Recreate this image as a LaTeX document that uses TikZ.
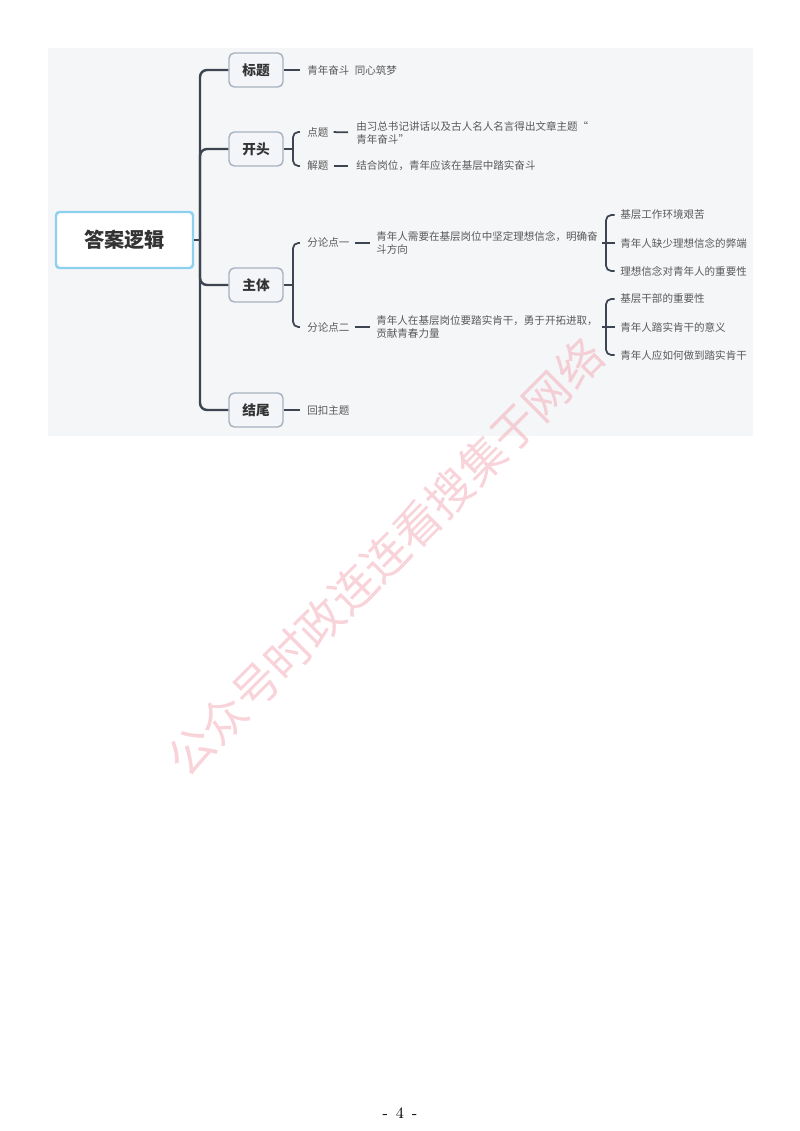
\documentclass[tikz,border=0pt]{standalone}
\usepackage{fontspec}
\newfontfamily\cjk{Noto Sans CJK SC}
\usetikzlibrary{positioning}
\definecolor{panel}{HTML}{F5F6F8}
\definecolor{branch}{HTML}{3E4552}
\definecolor{boxline}{HTML}{A7B2C0}
\definecolor{boxfill}{HTML}{F3F5F8}
\definecolor{rootline}{HTML}{8CD2F0}
\definecolor{leafgray}{HTML}{595959}
\definecolor{mark}{HTML}{F2A7B3}
\tikzset{
  rootbox/.style={draw=rootline, line width=1.4pt, fill=white, rounded corners=2pt,
    minimum width=2.74cm, minimum height=1.12cm,
    font=\cjk\bfseries\fontsize{11.5}{12}\selectfont, text=black!80},
  topicbox/.style={draw=boxline, line width=0.8pt, fill=boxfill, rounded corners=3pt,
    minimum width=1.08cm, minimum height=0.68cm,
    font=\cjk\bfseries\fontsize{7.8}{9}\selectfont, text=black!80},
  leaf/.style={anchor=west, inner sep=0pt, align=left,
    font=\cjk\fontsize{6}{7.4}\selectfont, text=leafgray},
  branchline/.style={draw=branch, line width=1.4pt, rounded corners=4pt},
  twigline/.style={draw=branch, line width=1pt, rounded corners=3pt},
}
\begin{document}
\begin{tikzpicture}[x=0.02cm, y=-0.02cm]
        \useasboundingbox (0,0) rectangle (800,1131);
        % the grey panel
        \fill[panel] (48,48) rectangle (753,436);

        % root and the four parts
        \node[rootbox] (daan) at (124.5,240) {答案逻辑};
        \node[topicbox] (biaoti) at (256,70) {标题};
        \node[topicbox] (kaitou) at (256,149) {开头};
        \node[topicbox] (zhuti) at (256,285) {主体};
        \node[topicbox] (jiewei) at (256,410) {结尾};

        % the trunk
        \coordinate (j0) at (200,240);
        \draw[branchline] (daan.east) -- (j0);
        \foreach \n in {biaoti,kaitou,zhuti,jiewei}
            \draw[branchline] (j0) |- (\n.west);

        % the texts of the parts
        \node[leaf] (biaotiT) at (307,70) {青年奋斗\enspace 同心筑梦};
        \node[leaf] (dianti) at (307,132) {点题};
        \node[leaf] (jieti) at (307,166) {解题};
        \node[leaf] (diantiT) at (356,132.5) {由习总书记讲话以及古人名人名言得出文章主题“\\青年奋斗”};
        \node[leaf] (jietiT) at (356,166) {结合岗位，青年应该在基层中踏实奋斗};
        \node[leaf] (fen1) at (307,243) {分论点一};
        \node[leaf] (fen2) at (307,327) {分论点二};
        \node[leaf] (fen1T) at (376,243) {青年人需要在基层岗位中坚定理想信念，明确奋\\斗方向};
        \node[leaf] (fen2T) at (376,327) {青年人在基层岗位要踏实肯干，勇于开拓进取，\\贡献青春力量};
        \node[leaf] (jieweiT) at (307,410) {回扣主题};

        % the leaves of the two points
        \node[leaf] (a1) at (620,215) {基层工作环境艰苦};
        \node[leaf] (a2) at (620,243) {青年人缺少理想信念的弊端};
        \node[leaf] (a3) at (620,271) {理想信念对青年人的重要性};
        \node[leaf] (b1) at (620,299) {基层干部的重要性};
        \node[leaf] (b2) at (620,327) {青年人踏实肯干的意义};
        \node[leaf] (b3) at (620,355) {青年人应如何做到踏实肯干};

        % draw the branches
        \draw[twigline, shorten >=4pt] (biaoti.east) -- (biaotiT.west);
        \draw[twigline, shorten >=4pt] (jiewei.east) -- (jieweiT.west);

        \coordinate (jk) at (293,149);
        \draw[twigline] (kaitou.east) -- (jk);
        \draw[twigline, shorten >=4pt] (jk) |- (dianti.west);
        \draw[twigline, shorten >=4pt] (jk) |- (jieti.west);
        \draw[twigline, shorten <=2.8pt, shorten >=4.5pt] (dianti.east) -- (diantiT.west);
        \draw[twigline, shorten <=2.8pt, shorten >=4.5pt] (jieti.east) -- (jietiT.west);

        \coordinate (jz) at (293,285);
        \draw[twigline] (zhuti.east) -- (jz);
        \draw[twigline, shorten >=4pt] (jz) |- (fen1.west);
        \draw[twigline, shorten >=4pt] (jz) |- (fen2.west);
        \draw[twigline, shorten <=3pt, shorten >=3.5pt] (fen1.east) -- (fen1T.west);
        \draw[twigline, shorten <=3pt, shorten >=3.5pt] (fen2.east) -- (fen2T.west);

        \coordinate (js1) at (606,243);
        \coordinate (js2) at (606,327);
        \draw[twigline, shorten <=2pt] (fen1T.east) -- (js1);
        \draw[twigline, shorten <=2pt] (fen2T.east) -- (js2);
        \draw[twigline, shorten >=3pt] (js1) |- (a1.west);
        \draw[twigline, shorten >=3pt] (js1) -- (a2.west);
        \draw[twigline, shorten >=3pt] (js1) |- (a3.west);
        \draw[twigline, shorten >=3pt] (js2) |- (b1.west);
        \draw[twigline, shorten >=3pt] (js2) -- (b2.west);
        \draw[twigline, shorten >=3pt] (js2) |- (b3.west);

        % watermark and page number
        \node[rotate=45, text=mark, opacity=0.5, font=\cjk\fontsize{26}{27}\selectfont] (shuiyin) at (385,557) {公众号时政连连看搜集于网络};
        \node[font=\small] (yema) at (400,1113) {-\enspace4\enspace-};
\end{tikzpicture}
\end{document}
